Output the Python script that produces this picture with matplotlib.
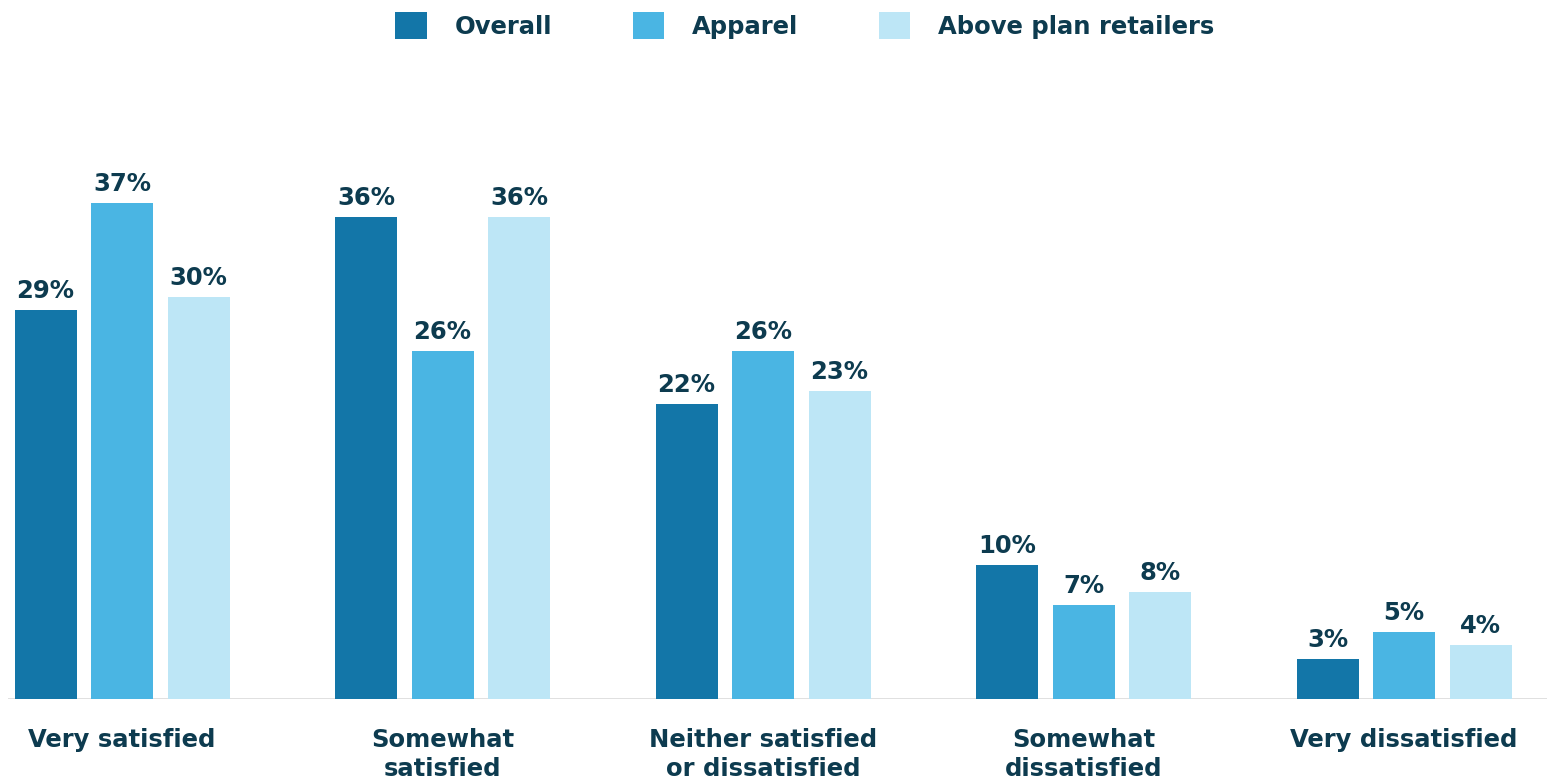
import numpy as np
import matplotlib.pyplot as plt
from matplotlib.patches import Patch

categories = ["Very satisfied", "Somewhat\nsatisfied", "Neither satisfied\nor dissatisfied",
              "Somewhat\ndissatisfied", "Very dissatisfied"]
series_names = ["Overall", "Apparel", "Above plan retailers"]
overall = [29, 36, 22, 10, 3]
apparel = [37, 26, 26, 7, 5]
above_plan = [30, 36, 23, 8, 4]

COLORS = ["#1376a8", "#4ab5e3", "#bde6f6"]
TEXT = "#0d3b4f"
FONT = "DejaVu Sans"
FS = 17.5

plt.rcParams["font.family"] = [FONT]

W, H = 1547, 784
fig = plt.figure(figsize=(W / 100, H / 100), dpi=100)

# axes placed so baseline sits ~699px from top
left_px, base_px = 8, 699
px_per_unit = 320.5
px_per_pct = 13.4
ax = fig.add_axes([left_px / W, (H - base_px) / H, 1 - left_px / W, 40 * px_per_pct / H])
ax.set_xlim(-(122 - left_px) / px_per_unit, (W - 122) / px_per_unit)
ax.set_ylim(0, 40)

x = np.arange(len(categories))
bar_w = 62 / px_per_unit
step = 76.5 / px_per_unit

for i, (vals, name) in enumerate(zip([overall, apparel, above_plan], series_names)):
    bars = ax.bar(x + (i - 1) * step, vals, width=bar_w, color=COLORS[i], label=name, zorder=2)
    for b, v in zip(bars, vals):
        ax.annotate(f"{v}%", (b.get_x() + b.get_width() / 2, v), xytext=(0, 5),
                    textcoords="offset points", ha="center", va="bottom",
                    fontsize=FS, fontweight="bold", color=TEXT)

ax.axhline(0, color="#dddddd", lw=2, zorder=1)
for s in ax.spines.values():
    s.set_visible(False)
ax.set_yticks([])
ax.set_xticks(x)
ax.set_xticklabels(categories, fontsize=FS, fontweight="bold", color=TEXT, linespacing=1.25)
ax.tick_params(axis="x", length=0, pad=21)

handles = [Patch(facecolor=c, label=n) for c, n in zip(COLORS, series_names)]
fig.legend(handles=handles, loc="upper center", bbox_to_anchor=(805 / W, 1.012), ncol=3,
           frameon=False, prop={"weight": "bold", "size": FS},
           handlelength=1.3, handleheight=1.3, columnspacing=3.3, handletextpad=1.15,
           labelcolor=TEXT)

fig.savefig("out.png", dpi=100)
